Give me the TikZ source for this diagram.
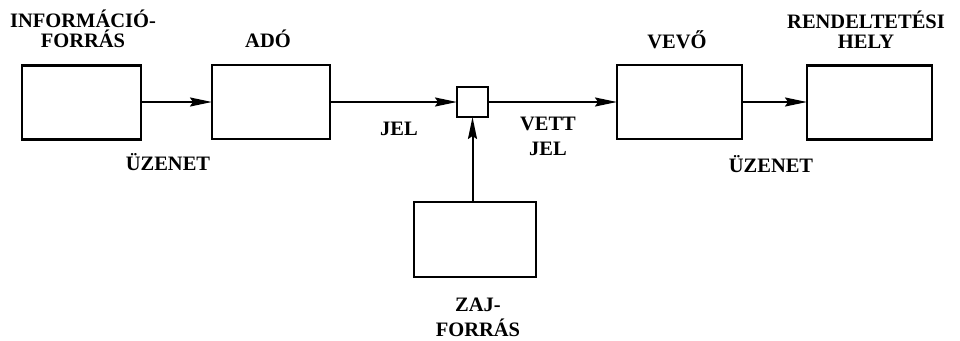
\documentclass[tikz,border=0pt]{standalone}
\usepackage{fontspec}
\setmainfont{Liberation Serif}
\usetikzlibrary{arrows.meta}
\begin{document}
\begin{tikzpicture}[x=1pt,y=-1pt,
  blk/.style={draw,line width=2.8pt,minimum width=#1,minimum height=74pt,inner sep=0pt,outer sep=0pt},
  blk/.default=120pt,
  lbl/.style={font=\bfseries\fontsize{20.5}{20}\selectfont,align=center,inner sep=0pt,anchor=base},
  arr/.style={line width=2pt,-{Stealth[length=22pt,width=9pt,inset=3pt]}}]
\useasboundingbox (0,0) rectangle (960,340);
\node[blk=119pt] (src) at (81.5,102.5) {};
\node[blk=118pt] (tx) at (271,102) {};
\node[draw,line width=2.8pt,minimum width=31pt,minimum height=30pt,inner sep=0pt,outer sep=0pt] (sq) at (472.5,102) {};
\node[blk=125pt] (rx) at (679.5,102) {};
\node[blk=125pt] (dst) at (869.5,102.5) {};
\node[blk=122pt,minimum height=75pt] (noise) at (475,239.5) {};
\draw[arr] (src.east |- tx.west) -- (tx.west);
\draw[arr] (tx.east) -- (sq.west);
\draw[arr] (sq.east) -- (rx.west);
\draw[arr] (rx.east) -- (dst.west |- rx.east);
\draw[arr] (noise.north -| sq.south) -- (sq.south);
\node[lbl] (lsrc) at (83,47) {INFORMÁCIÓ-\\FORRÁS};
\node[lbl] (ltx) at (268,47) {ADÓ};
\node[lbl] (ljel) at (399,135) {JEL};
\node[lbl] (luz1) at (168,170) {ÜZENET};
\node[lbl] (lvett) at (548,155) {VETT\\[5pt]JEL};
\node[lbl] (lrx) at (677,48) {VEVŐ};
\node[lbl] (ldst) at (866,48) {RENDELTETÉSI\\HELY};
\node[lbl] (luz2) at (771,172) {ÜZENET};
\node[lbl] (lnoise) at (478,336) {ZAJ-\\[5pt]FORRÁS};
\end{tikzpicture}
\end{document}
